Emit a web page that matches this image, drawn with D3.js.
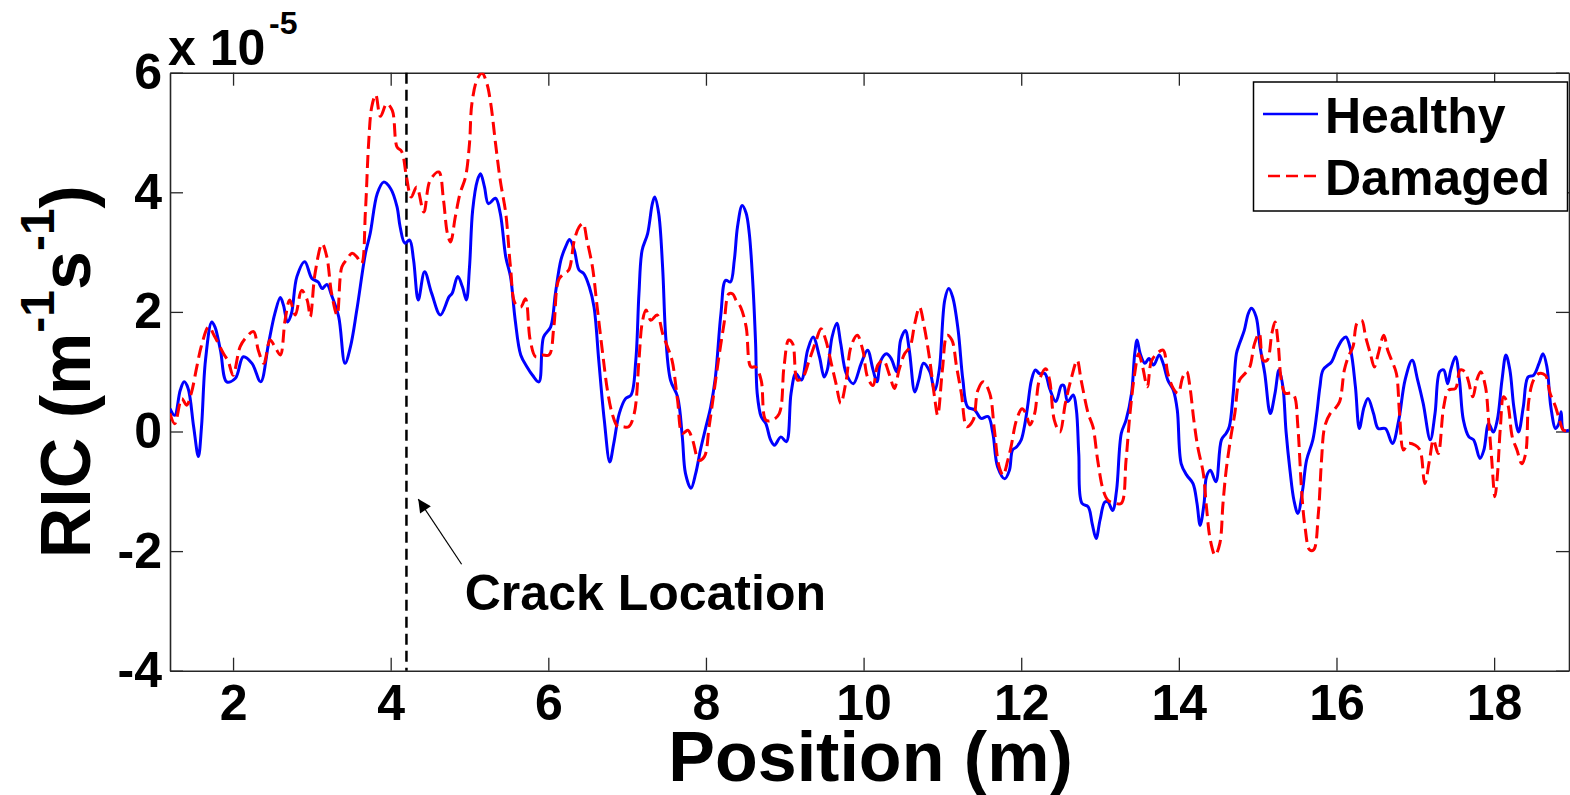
<!DOCTYPE html>
<html>
<head>
<meta charset="utf-8">
<script src="https://cdn.jsdelivr.net/npm/d3@7"></script>
<style>
  body { margin: 0; background: #fff; }
  svg text { font-family: "Liberation Sans", Arial, sans-serif; font-weight: bold; fill: #000; }
</style>
</head>
<body>
<div id="chart"></div>
<script>
// RIC values are in units of 1e-5 (m^-1 s^-1), position in m
const healthyPos = [1.20,1.26,1.33,1.38,1.43,1.50,1.56,1.60,1.65,1.73,1.77,1.84,1.92,2.03,2.13,2.24,2.35,2.45,2.53,2.60,2.64,2.69,2.74,2.81,2.91,3.00,3.08,3.13,3.19,3.25,3.34,3.42,3.49,3.57,3.68,3.74,3.83,3.91,4.00,4.08,4.12,4.18,4.24,4.29,4.35,4.43,4.52,4.63,4.74,4.78,4.85,4.91,4.96,5.00,5.04,5.10,5.14,5.19,5.24,5.33,5.39,5.46,5.52,5.58,5.65,5.73,5.80,5.88,5.94,6.03,6.09,6.16,6.22,6.27,6.33,6.39,6.45,6.52,6.58,6.64,6.71,6.78,6.83,6.90,6.98,7.05,7.11,7.15,7.19,7.26,7.32,7.35,7.40,7.45,7.49,7.55,7.64,7.70,7.74,7.81,7.87,7.93,8.00,8.06,8.12,8.19,8.25,8.31,8.36,8.40,8.46,8.51,8.55,8.59,8.63,8.65,8.70,8.76,8.82,8.87,8.95,9.02,9.08,9.14,9.21,9.29,9.36,9.44,9.50,9.54,9.60,9.66,9.71,9.78,9.87,9.97,10.05,10.12,10.17,10.22,10.29,10.35,10.42,10.47,10.53,10.58,10.65,10.70,10.76,10.84,10.90,10.96,11.03,11.08,11.13,11.20,11.26,11.32,11.41,11.49,11.58,11.64,11.70,11.79,11.85,11.89,11.94,12.00,12.04,12.08,12.13,12.18,12.23,12.30,12.36,12.44,12.51,12.54,12.59,12.66,12.70,12.73,12.77,12.85,12.90,12.95,13.00,13.06,13.10,13.16,13.21,13.27,13.33,13.40,13.44,13.47,13.51,13.57,13.62,13.68,13.75,13.80,13.86,13.93,13.98,14.03,14.10,14.18,14.23,14.27,14.32,14.35,14.40,14.47,14.54,14.60,14.64,14.69,14.73,14.77,14.83,14.88,14.92,14.98,15.03,15.09,15.16,15.22,15.27,15.32,15.36,15.41,15.46,15.51,15.57,15.62,15.70,15.75,15.79,15.83,15.94,16.00,16.07,16.12,16.18,16.24,16.29,16.35,16.40,16.47,16.53,16.62,16.71,16.79,16.87,16.96,17.03,17.10,17.19,17.25,17.31,17.36,17.41,17.45,17.51,17.56,17.61,17.68,17.74,17.82,17.87,17.93,17.99,18.04,18.10,18.15,18.20,18.25,18.31,18.37,18.43,18.50,18.57,18.62,18.67,18.72,18.78,18.82,18.85,18.88,18.95];
const healthyRIC = [0.38,0.27,0.69,0.83,0.72,0.08,-0.42,0.08,1.19,1.83,1.75,1.36,0.83,0.89,1.25,1.14,0.83,1.47,1.97,2.24,2.11,1.83,1.97,2.59,2.84,2.56,2.50,2.39,2.46,2.28,1.92,1.14,1.42,2.03,2.98,3.31,3.98,4.17,4.06,3.76,3.42,3.15,3.20,2.87,2.20,2.67,2.31,1.95,2.25,2.31,2.59,2.42,2.20,2.75,3.70,4.20,4.31,4.09,3.81,3.90,3.65,2.92,2.59,1.86,1.28,1.08,0.94,0.83,1.58,1.75,2.31,2.87,3.09,3.21,3.03,2.70,2.64,2.42,2.08,1.19,0.19,-0.51,-0.20,0.30,0.55,0.61,1.19,2.31,3.03,3.31,3.81,3.92,3.65,2.75,1.58,0.86,0.58,-0.09,-0.70,-0.95,-0.70,-0.31,0.08,0.41,0.91,1.97,2.53,2.50,2.87,3.42,3.78,3.65,3.31,2.59,1.47,0.64,0.25,0.13,-0.14,-0.23,-0.09,-0.17,0.64,0.97,0.86,1.36,1.58,1.25,0.91,1.03,1.58,1.81,1.47,0.97,0.80,1.14,1.36,1.03,0.83,1.19,1.30,1.22,1.00,1.53,1.69,1.36,0.66,0.86,1.14,1.00,0.69,1.03,2.20,2.39,2.25,1.69,0.86,0.41,0.36,0.22,0.25,-0.03,-0.59,-0.79,-0.65,-0.31,-0.26,-0.14,0.08,0.41,0.86,1.03,0.97,0.97,0.72,0.50,0.77,0.77,0.50,0.61,0.36,-0.37,-1.20,-1.26,-1.54,-1.79,-1.48,-1.18,-1.18,-1.32,-0.98,-0.03,0.19,0.64,1.30,1.53,1.30,1.14,1.22,1.11,1.28,1.14,0.86,0.69,0.36,-0.54,-0.73,-0.87,-1.20,-1.57,-1.20,-0.76,-0.65,-0.84,-0.14,-0.03,0.08,0.64,1.30,1.47,1.69,1.97,2.06,1.92,1.42,0.97,0.30,0.64,1.03,0.75,0.00,-0.65,-1.15,-1.37,-0.98,-0.48,-0.14,0.30,0.75,1.03,1.17,1.36,1.53,1.58,1.36,0.75,0.05,0.41,0.55,0.30,0.05,0.05,-0.20,0.19,0.86,1.19,0.86,0.47,-0.14,0.30,1.00,1.03,0.80,1.03,1.25,0.86,0.19,-0.09,-0.14,-0.45,-0.31,0.13,-0.01,0.19,0.86,1.28,1.03,0.41,-0.01,0.41,0.91,0.94,1.14,1.30,1.08,0.41,0.05,0.13,0.33,0.02,0.02];

const damagedPos = [1.20,1.26,1.35,1.41,1.47,1.54,1.60,1.69,1.77,1.88,1.94,2.00,2.09,2.17,2.26,2.32,2.39,2.47,2.53,2.60,2.66,2.72,2.79,2.87,2.94,2.98,3.04,3.13,3.19,3.25,3.32,3.38,3.44,3.51,3.57,3.63,3.68,3.72,3.76,3.81,3.87,3.95,4.02,4.08,4.14,4.20,4.26,4.33,4.42,4.50,4.61,4.67,4.72,4.76,4.82,4.88,4.95,5.00,5.03,5.10,5.16,5.22,5.27,5.33,5.39,5.46,5.52,5.58,5.65,5.71,5.77,5.84,5.92,6.01,6.07,6.13,6.20,6.26,6.33,6.39,6.44,6.49,6.56,6.62,6.69,6.75,6.81,6.88,6.94,7.02,7.09,7.15,7.19,7.24,7.30,7.38,7.45,7.51,7.57,7.64,7.70,7.77,7.83,7.91,7.98,8.04,8.10,8.17,8.23,8.29,8.34,8.38,8.44,8.51,8.57,8.63,8.70,8.76,8.84,8.93,8.99,9.05,9.10,9.16,9.23,9.31,9.40,9.46,9.52,9.59,9.65,9.71,9.78,9.84,9.92,9.99,10.05,10.12,10.18,10.25,10.33,10.39,10.45,10.52,10.59,10.65,10.71,10.77,10.84,10.90,10.94,11.00,11.06,11.12,11.18,11.24,11.31,11.39,11.45,11.52,11.60,11.66,11.72,11.77,11.83,11.87,11.94,12.01,12.06,12.11,12.17,12.23,12.31,12.36,12.42,12.49,12.56,12.63,12.71,12.76,12.85,12.91,12.97,13.04,13.10,13.19,13.27,13.33,13.38,13.44,13.49,13.54,13.60,13.65,13.72,13.80,13.86,13.93,13.99,14.05,14.10,14.14,14.19,14.24,14.31,14.35,14.40,14.46,14.52,14.56,14.60,14.66,14.71,14.77,14.84,14.90,14.96,15.02,15.07,15.12,15.18,15.22,15.26,15.30,15.35,15.43,15.47,15.51,15.56,15.60,15.66,15.71,15.77,15.81,15.85,15.92,15.98,16.04,16.10,16.15,16.21,16.26,16.32,16.37,16.43,16.48,16.53,16.60,16.65,16.70,16.76,16.80,16.85,16.91,17.00,17.06,17.12,17.18,17.23,17.29,17.36,17.42,17.51,17.57,17.63,17.67,17.73,17.78,17.83,17.89,17.93,17.97,18.01,18.04,18.08,18.12,18.17,18.23,18.29,18.35,18.40,18.44,18.50,18.57,18.65,18.71,18.78,18.83,18.88,18.95];
const damagedRIC = [0.30,0.13,0.55,0.44,0.64,1.08,1.44,1.75,1.58,1.30,1.17,0.94,1.42,1.58,1.67,1.36,1.14,1.53,1.42,1.28,1.86,2.20,1.95,2.36,2.20,1.92,2.64,3.14,2.92,2.31,1.95,2.75,2.87,2.98,2.92,2.81,3.70,4.82,5.43,5.63,5.27,5.48,5.37,4.76,4.68,4.26,3.92,4.09,3.67,4.20,4.34,3.87,3.31,3.17,3.59,3.98,4.26,4.82,5.48,5.90,5.99,5.82,5.48,4.82,4.20,3.65,2.75,2.14,2.08,2.22,1.53,1.25,1.28,1.28,1.75,2.53,2.64,2.70,3.20,3.42,3.48,3.20,2.75,2.08,1.30,0.69,0.30,0.08,0.08,0.08,0.30,1.19,1.81,2.03,1.86,1.95,1.64,1.42,1.19,0.52,-0.03,0.02,-0.14,-0.48,-0.42,0.08,0.64,1.30,1.81,2.30,2.30,2.20,2.08,1.75,1.08,1.08,0.86,0.19,0.19,0.30,1.08,1.53,1.47,0.86,0.91,1.19,1.53,1.72,1.53,1.14,0.80,0.47,0.86,1.42,1.61,1.36,0.91,0.77,1.11,1.19,0.94,0.72,1.03,1.30,1.42,1.81,2.08,1.75,1.19,0.58,0.27,1.03,1.61,1.53,1.08,0.64,0.08,0.19,0.69,0.83,0.64,0.02,-0.59,-0.73,-0.48,-0.26,0.19,0.38,0.30,0.11,0.30,0.86,1.05,0.86,0.19,-0.01,0.47,0.86,1.19,0.86,0.30,0.08,-0.48,-0.98,-1.15,-1.20,-1.20,-0.48,0.30,0.97,1.30,1.08,0.75,1.17,1.30,1.36,0.97,0.72,0.64,0.91,1.00,0.75,0.19,-0.26,-0.70,-1.26,-1.82,-2.07,-1.87,-1.20,-0.65,-0.09,0.30,0.86,0.97,1.08,1.47,1.64,1.19,1.19,1.64,1.83,1.47,0.86,0.64,0.64,0.58,0.08,-1.04,-1.59,-1.98,-1.98,-1.37,-0.48,0.08,0.30,0.38,0.50,1.03,1.25,1.42,1.81,1.86,1.58,1.30,1.08,1.30,1.61,1.36,1.19,0.97,0.30,-0.31,-0.20,-0.23,-0.31,-0.87,-0.48,-0.14,-0.37,0.41,0.69,0.72,1.03,1.00,0.86,0.58,0.86,1.00,0.75,0.19,-0.48,-1.09,-0.76,0.08,0.58,0.47,-0.09,-0.31,-0.54,-0.37,0.52,0.86,0.97,0.94,0.64,0.41,0.19,0.02,0.02];

const xTicks = [2, 4, 6, 8, 10, 12, 14, 16, 18];
const yTicks = [-4, -2, 0, 2, 4, 6];
const seriesNames = ["Healthy", "Damaged"];
const crackPos = 4.2;
// annotation: arrow tip / tail and label anchor, in data coords
const arrowTip = [4.35, -1.13];
const arrowTail = [4.90, -2.22];
const crackLabel = [4.94, -2.98];

const width = 1570;
const height = 795;
const margin = ({top: 72.7, right: 1, bottom: 124.3, left: 170});
const font = "Liberation Sans, Arial, sans-serif";

const x = d3.scaleLinear()
    .domain([1.2, 18.95])
    .range([margin.left, width - margin.right]);

const y = d3.scaleLinear()
    .domain([-4, 6])
    .range([height - margin.bottom, margin.top]);

const svg = d3.select("#chart")
    .append("svg")
    .attr("width", width)
    .attr("height", height);

svg.append("rect").attr("width", width).attr("height", height).attr("fill", "#fff");

svg.append("defs").append("clipPath")
    .attr("id", "plotclip")
    .append("rect")
    .attr("x", margin.left)
    .attr("y", margin.top)
    .attr("width", width - margin.right - margin.left)
    .attr("height", height - margin.bottom - margin.top);

svg.select("defs").append("marker")
    .attr("id", "arrowhead")
    .attr("viewBox", "0 0 10 10")
    .attr("refX", 10)
    .attr("refY", 5)
    .attr("markerUnits", "userSpaceOnUse")
    .attr("markerWidth", 17)
    .attr("markerHeight", 13)
    .attr("orient", "auto")
    .append("path")
    .attr("d", "M0,0 L10,5 L0,10 z")
    .attr("fill", "#000");

const axisColour = "#262626";

function styleAxis(g) {
    g.selectAll(".domain").attr("stroke", axisColour).attr("stroke-width", 1.6);
    g.selectAll(".tick line").attr("stroke", axisColour).attr("stroke-width", 1.3);
    g.selectAll(".tick text")
        .attr("font-family", font)
        .attr("font-weight", "bold")
        .attr("font-size", "50px")
        .attr("fill", "#000");
}

// bottom axis with labels
svg.append("g")
    .attr("transform", `translate(0,${y(-4)})`)
    .call(d3.axisBottom(x)
        .tickValues(xTicks)
        .tickSize(-13)
        .tickSizeOuter(0)
        .tickPadding(14)
        .tickFormat(d => String(d)))
    .call(styleAxis);

// top axis, ticks only
svg.append("g")
    .attr("transform", `translate(0,${y(6)})`)
    .call(d3.axisTop(x)
        .tickValues(xTicks)
        .tickSize(-13)
        .tickSizeOuter(0)
        .tickFormat(""))
    .call(styleAxis);

// left axis with labels
svg.append("g")
    .attr("transform", `translate(${x(1.2)},0)`)
    .call(d3.axisLeft(y)
        .tickValues(yTicks)
        .tickSize(-13)
        .tickSizeOuter(0)
        .tickPadding(8)
        .tickFormat(d => String(d)))
    .call(styleAxis);

// right axis, ticks only
svg.append("g")
    .attr("transform", `translate(${x(18.95)},0)`)
    .call(d3.axisRight(y)
        .tickValues(yTicks)
        .tickSize(-13)
        .tickSizeOuter(0)
        .tickFormat(""))
    .call(styleAxis);

// crack location marker
svg.append("line")
    .attr("x1", x(crackPos)).attr("x2", x(crackPos))
    .attr("y1", y(6)).attr("y2", y(-4))
    .attr("stroke", "#000")
    .attr("stroke-width", 2.5)
    .attr("stroke-dasharray", "11,6");

const line = d3.line()
    .x(d => x(d[0]))
    .y(d => y(d[1]))
    .curve(d3.curveCatmullRom.alpha(0.5));

const plot = svg.append("g").attr("clip-path", "url(#plotclip)");

plot.append("path")
    .attr("fill", "none")
    .attr("stroke", "#0000ff")
    .attr("stroke-width", 3)
    .attr("stroke-linejoin", "round")
    .attr("d", line(d3.zip(healthyPos, healthyRIC)));

plot.append("path")
    .attr("fill", "none")
    .attr("stroke", "#ff0000")
    .attr("stroke-width", 3)
    .attr("stroke-dasharray", "13,6")
    .attr("d", line(d3.zip(damagedPos, damagedRIC)));

// annotation arrow + text
svg.append("line")
    .attr("x1", x(arrowTail[0])).attr("y1", y(arrowTail[1]))
    .attr("x2", x(arrowTip[0])).attr("y2", y(arrowTip[1]))
    .attr("stroke", "#000")
    .attr("stroke-width", 1.2)
    .attr("marker-end", "url(#arrowhead)");

svg.append("text")
    .attr("x", x(crackLabel[0]))
    .attr("y", y(crackLabel[1]))
    .attr("font-size", "50px")
    .text("Crack Location");

// exponent label
svg.append("text")
    .attr("x", 168)
    .attr("y", 65)
    .attr("font-size", "50px")
    .text("x 10");
svg.append("text")
    .attr("x", 269)
    .attr("y", 34)
    .attr("font-size", "32px")
    .text("-5");

// axis titles
svg.append("text")
    .attr("x", (x(1.2) + x(18.95)) / 2 + 1)
    .attr("y", 781)
    .attr("text-anchor", "middle")
    .attr("font-size", "70px")
    .text("Position (m)");

const ylab = svg.append("text")
    .attr("transform", `translate(90,${(y(6) + y(-4)) / 2}) rotate(-90)`)
    .attr("text-anchor", "middle")
    .attr("font-size", "70px");
ylab.append("tspan").text("RIC (m");
ylab.append("tspan").attr("dy", -36).attr("font-size", "48px").text("-1");
ylab.append("tspan").attr("dy", 36).text("s");
ylab.append("tspan").attr("dy", -36).attr("font-size", "48px").text("-1");
ylab.append("tspan").attr("dy", 36).text(")");

// legend
const legend = svg.append("g");
legend.append("rect")
    .attr("x", 1253.5).attr("y", 82)
    .attr("width", 314).attr("height", 129)
    .attr("fill", "#fff")
    .attr("stroke", "#000")
    .attr("stroke-width", 1.5);

const legendStyles = [
    {stroke: "#0000ff", dash: null, x1: 1263},
    {stroke: "#ff0000", dash: "12,6", x1: 1268}
];
seriesNames.forEach((name, i) => {
    const cy = 114 + i * 62;
    legend.append("line")
        .attr("x1", legendStyles[i].x1).attr("x2", 1318)
        .attr("y1", cy).attr("y2", cy)
        .attr("stroke", legendStyles[i].stroke)
        .attr("stroke-width", 2.5)
        .attr("stroke-dasharray", legendStyles[i].dash);
    legend.append("text")
        .attr("x", 1325)
        .attr("y", cy + 19)
        .attr("font-size", "50px")
        .text(name);
});
</script>
</body>
</html>
